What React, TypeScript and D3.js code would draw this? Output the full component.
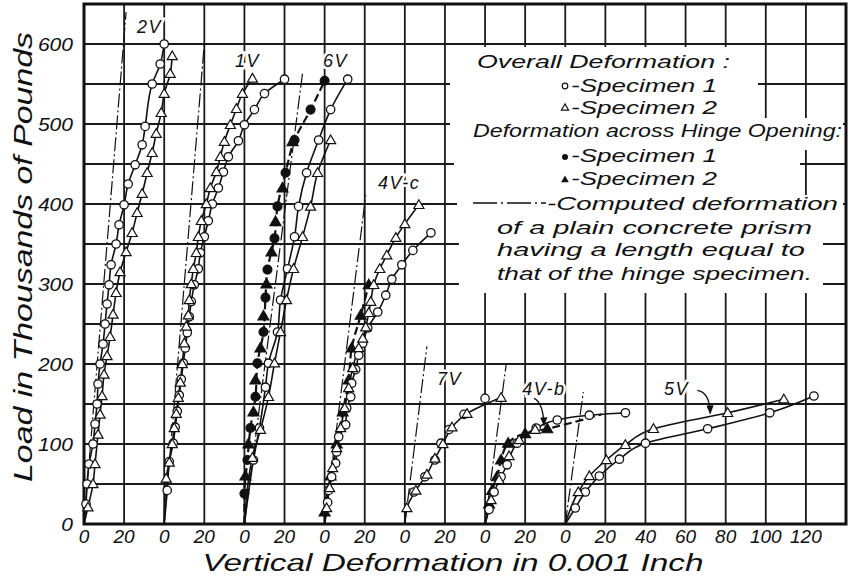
import React from 'react'
import * as d3 from 'd3'

const W = 851
const H = 579
const FONT = "'Liberation Sans', 'DejaVu Sans', sans-serif"

// specimens share one deformation axis, each with its own zero (0.001 in)
const specimens = ['2V', '1V', '6V', '4V-c', '7V', '4V-b', '5V']
const origins = [0, 40, 80, 120, 160, 200, 240]

const loadTicks = [0, 100, 200, 300, 400, 500, 600]
const deformTicks = ['0', '20', '0', '20', '0', '20', '0', '20', '0', '20', '0', '20', '0', '20', '40', '60', '80', '100', '120']

// [deformation, load in kips]
const v2Spec1 = [[0, 0], [1, 25], [1.5, 50], [2.5, 75], [4.5, 100], [5.5, 125], [6.5, 150], [7, 175], [8, 200], [9.5, 225], [10.5, 250], [11.5, 275], [12.5, 299], [13.5, 324], [16, 350], [17.5, 374], [20, 399], [22, 425], [25.5, 449], [29, 474], [30.5, 497], [34, 550], [38, 575], [40, 600]]
const v2Spec2 = [[0, 0], [2, 21], [4.5, 50], [5.5, 75], [7, 112], [8, 137], [9, 160], [10, 187], [11.5, 210], [13, 234], [14.5, 262], [16, 289], [18, 315], [21, 340], [24, 364], [26.5, 389], [29, 413], [31.5, 439], [34, 464], [36, 488], [38.5, 514], [40, 538], [43, 563], [44, 585]]

const v1Spec1 = [[0, 0], [1.5, 42], [2.5, 78], [4.5, 101], [5.5, 121], [6.5, 141], [7.5, 161], [8.5, 181], [9.5, 201], [10.5, 220], [11.5, 239], [12.5, 259], [13.5, 278], [15, 299], [17, 319], [18, 339], [20, 359], [22, 379], [24, 400], [27, 420], [29.5, 440], [32, 459], [37, 479], [40, 499], [45, 518], [50, 538], [60, 556]]
const v1Spec2 = [[0, 0], [1, 57], [2.5, 77], [4, 100], [5, 120], [6, 138], [7, 158], [8, 177], [9, 200], [10, 226], [11, 247], [12, 261], [12.5, 280], [13.5, 300], [14.5, 319], [16, 339], [17, 359], [18.5, 379], [21, 400], [23, 420], [26, 440], [28, 459], [30, 478], [33, 499], [36, 519], [39, 538], [44, 557]]

const v6Spec1 = [[0, 0], [4.5, 80], [7.5, 120], [10.5, 171], [12, 201], [16.5, 240], [18, 280], [21.5, 319], [25, 359], [27, 397], [31, 439], [37, 480], [43, 518], [51.5, 556]]
const v6Spec2 = [[0, 0], [4, 83], [8, 118], [12, 159], [15, 201], [18, 240], [21, 280], [24.5, 319], [29, 359], [33, 397], [36.5, 439], [43, 480]]
const v6Hinge1 = [[0, 0], [0, 38], [1.5, 80], [3, 120], [5.5, 159], [6.5, 201], [9.5, 240], [10.5, 283], [11.5, 318], [15, 357], [16.5, 397], [20.5, 439], [25, 480], [33, 518], [40, 554]]
const v6Hinge2 = [[0, 0], [0.5, 60], [2, 100], [4.5, 140], [5.5, 180], [8, 220], [9.5, 260], [11, 300], [13.5, 340], [15.5, 378], [19, 420], [24, 478]]

const v4cSpec1 = [[0, 0], [1.5, 27], [2, 42], [3.5, 59], [5.5, 76], [6, 90], [7, 109], [10.5, 124], [11, 145], [13, 159], [13.5, 176], [15.5, 193], [17, 211], [19, 226], [21.5, 245], [26.5, 265], [30.5, 286], [33.5, 306], [38.5, 324], [44, 342], [53, 364]]
const v4cSpec2 = [[0, 0], [1, 20], [2.5, 45], [4, 70], [6, 95], [8, 120], [10, 145], [12, 170], [14, 195], [17, 220], [19, 232], [20.5, 246], [22, 264], [23, 278], [24.5, 299], [27.5, 319], [31, 336], [35.5, 358], [40, 375], [47, 399]]
const v4cHinge1 = [[0, 0], [0, 15], [3, 60], [6, 100], [9, 140], [12, 180], [13.5, 220], [18, 261], [22, 299]]

const v7Spec1 = [[0, 0], [4.5, 40], [10, 59], [15, 80], [18, 101], [22, 118], [29.5, 137], [40, 157]]
const v7Spec2 = [[0, 0], [1, 20], [5.5, 42], [11, 62], [15, 82], [19, 100], [23.5, 121], [31, 138], [48, 158]]

const v4bSpec1 = [[0, 0], [2, 18], [4.5, 40], [8, 59], [11, 74], [16, 101], [25.5, 120], [36, 130], [52, 136], [70, 139]]
const v4bSpec2 = [[0, 0], [3, 30], [7, 55], [12, 85], [17, 105], [25, 118]]
const v4bHinge1 = [[0, 0], [2, 25], [3.5, 42], [6, 59], [8, 80], [11.5, 101], [20, 113], [31, 119], [58, 137]]

const v5Spec1 = [[0, 0], [5, 20], [10, 40], [17, 60], [27, 81], [40, 101], [71, 119], [102, 139], [124, 160]]
const v5Spec2 = [[0, 0], [6.5, 40], [12, 60], [20.5, 80], [30, 99], [44, 119], [81, 139], [109, 156]]

// computed plain-prism lines, straight from each zero: [deformation, load] at the top
const computedEnds = [[21, 640], [20, 600], [29, 564], [20.5, 411], [11, 222], [10.5, 199], [9, 165]]

// curve label spots, [deformation from specimen zero, load]
const labelSpots = [[26.4, 614], [35.3, 571], [39.2, 571], [26.6, 419], [16, 174], [18.5, 161], [49.3, 161]]

type Series = { spec: number, mark: string, filled: boolean, line: boolean, dashed: boolean, tail: number, pts: number[][] }

const series: Series[] = [
  { spec: 0, mark: 'circle', filled: false, line: true, dashed: false, tail: 0, pts: v2Spec1 },
  { spec: 0, mark: 'triangle', filled: false, line: true, dashed: false, tail: 0, pts: v2Spec2 },
  { spec: 1, mark: 'circle', filled: false, line: true, dashed: false, tail: 0, pts: v1Spec1 },
  { spec: 1, mark: 'triangle', filled: false, line: true, dashed: false, tail: 0, pts: v1Spec2 },
  { spec: 2, mark: 'circle', filled: true, line: true, dashed: true, tail: 0, pts: v6Hinge1 },
  { spec: 2, mark: 'triangle', filled: true, line: false, dashed: true, tail: 0, pts: v6Hinge2 },
  { spec: 2, mark: 'circle', filled: false, line: true, dashed: false, tail: 0, pts: v6Spec1 },
  { spec: 2, mark: 'triangle', filled: false, line: true, dashed: false, tail: 0, pts: v6Spec2 },
  { spec: 3, mark: 'triangle', filled: true, line: true, dashed: true, tail: 0, pts: v4cHinge1 },
  { spec: 3, mark: 'circle', filled: false, line: true, dashed: false, tail: 0, pts: v4cSpec1 },
  { spec: 3, mark: 'triangle', filled: false, line: true, dashed: false, tail: 0, pts: v4cSpec2 },
  { spec: 4, mark: 'circle', filled: false, line: false, dashed: false, tail: 0, pts: v7Spec1 },
  { spec: 4, mark: 'triangle', filled: false, line: true, dashed: false, tail: 0, pts: v7Spec2 },
  { spec: 5, mark: 'triangle', filled: true, line: true, dashed: true, tail: 1, pts: v4bHinge1 },
  { spec: 5, mark: 'circle', filled: false, line: true, dashed: false, tail: 0, pts: v4bSpec1 },
  { spec: 5, mark: 'triangle', filled: false, line: false, dashed: false, tail: 0, pts: v4bSpec2 },
  { spec: 6, mark: 'circle', filled: false, line: true, dashed: false, tail: 0, pts: v5Spec1 },
  { spec: 6, mark: 'triangle', filled: false, line: true, dashed: false, tail: 0, pts: v5Spec2 },
]

const x = d3.scaleLinear().domain([0, 380]).range([84, 846])
const y = d3.scaleLinear().domain([0, 650]).range([524, 4])

const px = (spec: number, d: number) => x(origins[spec] + d)

const triPath = (size: number) => d3.symbol(d3.symbolTriangle, size)() as string

function Marker({ cx, cy, mark, filled }: { cx: number, cy: number, mark: string, filled: boolean }) {
  if (mark === 'circle') {
    return <circle cx={cx} cy={cy} r={filled ? 4.4 : 4.2} fill={filled ? '#111' : '#fff'} stroke="#111" strokeWidth={1.3} />
  }
  return <path d={triPath(filled ? 52 : 44)} transform={`translate(${cx},${cy + 0.8})`} fill={filled ? '#111' : '#fff'} stroke="#111" strokeWidth={1.2} />
}

export default function App() {
  const gridX = d3.range(20, 380, 20)
  const gridY = d3.range(50, 650, 50)

  // white patches behind the key, shaped around its lines of text
  const keyMask = [
    [450, 47, 308, 72],
    [450, 118, 393, 32],
    [454, 150, 346, 45],
    [457, 195, 386, 27],
    [459, 222, 364, 71],
  ]

  const text = { fontFamily: FONT, fontStyle: 'italic' as const, fill: '#111' }
  const stretch = { lengthAdjust: 'spacingAndGlyphs' }

  return (
    <svg width={W} height={H} style={{ position: 'absolute', left: 0, top: 0, background: '#fff' }}>
      <defs>
        <marker id="arr" viewBox="0 0 10 10" refX="9" refY="5" markerWidth="7" markerHeight="7" orient="auto">
          <path d="M0,1 L10,5 L0,9 Z" fill="#111" />
        </marker>
      </defs>
      <rect width={W} height={H} fill="#fff" />

      {/* grid */}
      <g stroke="#1a1a1a" strokeWidth={1.8}>
        {gridX.map(u => <line key={'gx' + u} x1={x(u)} x2={x(u)} y1={y(650)} y2={y(0)} />)}
        {gridY.map(v => <line key={'gy' + v} x1={x(0)} x2={x(380)} y1={y(v)} y2={y(v)} />)}
      </g>
      {keyMask.map((r, i) => <rect key={'m' + i} x={r[0]} y={r[1]} width={r[2]} height={r[3]} fill="#fff" />)}
      <rect x={x(0)} y={y(650)} width={x(380) - x(0)} height={y(0) - y(650)} fill="none" stroke="#111" strokeWidth={3} />

      {/* computed deformation of a plain prism */}
      <g stroke="#111" strokeWidth={1.2} strokeDasharray="14,3,2,3" fill="none">
        {computedEnds.map((e, i) => (
          <line key={'c' + i} x1={px(i, 0)} y1={y(0)} x2={px(i, e[0])} y2={y(e[1])} />
        ))}
      </g>

      {/* curves */}
      {series.filter(s => s.line).map((s, i) => {
        const line = d3.line<number[]>().x(p => px(s.spec, p[0])).y(p => y(p[1])).curve(d3.curveMonotoneY)
        return <path key={'l' + i} d={line(s.pts) as string} fill="none" stroke="#111"
          strokeWidth={s.dashed ? 2.2 : 1.6} strokeDasharray={s.dashed ? '8,4' : undefined} />
      })}

      {/* points */}
      {series.map((s, i) => (
        <g key={'p' + i}>
          {s.pts.slice(0, s.pts.length - s.tail).filter(p => p[1] > 0).map((p, j) => (
            <Marker key={j} cx={px(s.spec, p[0])} cy={y(p[1])} mark={s.mark} filled={s.filled} />
          ))}
        </g>
      ))}

      {/* curve labels */}
      {specimens.map((name, i) => (
        <text key={name} x={px(i, labelSpots[i][0])} y={y(labelSpots[i][1])} fontSize={18}
          {...text} stroke="#fff" strokeWidth={5} paintOrder="stroke" letterSpacing={1.5}>{name}</text>
      ))}
      <path d={`M${px(5, 24.4)},${y(157)} Q${px(5, 29)},${y(152)} ${px(5, 29.4)},${y(123)}`} fill="none" stroke="#111" strokeWidth={1.3} markerEnd="url(#arr)" />
      <path d={`M${px(6, 65.8)},${y(167)} Q${px(6, 72)},${y(165)} ${px(6, 72.3)},${y(138)}`} fill="none" stroke="#111" strokeWidth={1.3} markerEnd="url(#arr)" />

      {/* axes text */}
      {loadTicks.map(v => (
        <text key={'yt' + v} x={73} y={y(v) + 7} textAnchor="end" fontSize={19} {...text} {...stretch}
          textLength={String(v).length * 11.7}>{v}</text>
      ))}
      {deformTicks.map((t, i) => (
        <text key={'xt' + i} x={x(i * 20)} y={543} textAnchor="middle" fontSize={19} {...text}>{t}</text>
      ))}
      <text x={453} y={571} textAnchor="middle" fontSize={24} {...text} {...stretch} textLength={501}>Vertical Deformation in 0.001 Inch</text>
      <text transform="translate(32,257) rotate(-90)" textAnchor="middle" fontSize={26} {...text} {...stretch} textLength={450}>Load in Thousands of Pounds</text>

      {/* key */}
      <g fontSize={19} {...text}>
        <text x={477} y={68} textLength={253} {...stretch}>Overall Deformation :</text>
        <text x={571} y={92} textLength={146} {...stretch}>-Specimen 1</text>
        <text x={571} y={114} textLength={146} {...stretch}>-Specimen 2</text>
        <text x={473} y={137} textLength={369} {...stretch}>Deformation across Hinge Opening:</text>
        <text x={571} y={162} textLength={146} {...stretch}>-Specimen 1</text>
        <text x={571} y={185} textLength={146} {...stretch}>-Specimen 2</text>
        <text x={547} y={210} textLength={291} {...stretch}>-Computed deformation</text>
        <text x={497} y={234} textLength={315} {...stretch}>of a plain concrete prism</text>
        <text x={497} y={256} textLength={308} {...stretch}>having a length equal to</text>
        <text x={497} y={280} textLength={315} {...stretch}>that of the hinge specimen.</text>
      </g>
      <circle cx={565} cy={86} r={2.8} fill="#fff" stroke="#111" strokeWidth={1.2} />
      <path d={triPath(22)} transform="translate(565,108)" fill="#fff" stroke="#111" strokeWidth={1.2} />
      <circle cx={565} cy={157} r={3} fill="#111" />
      <path d={triPath(26)} transform="translate(565,180)" fill="#111" />
      <line x1={473} x2={546} y1={203} y2={203} stroke="#111" strokeWidth={1.4} strokeDasharray="24,4,2,4" />
    </svg>
  )
}
